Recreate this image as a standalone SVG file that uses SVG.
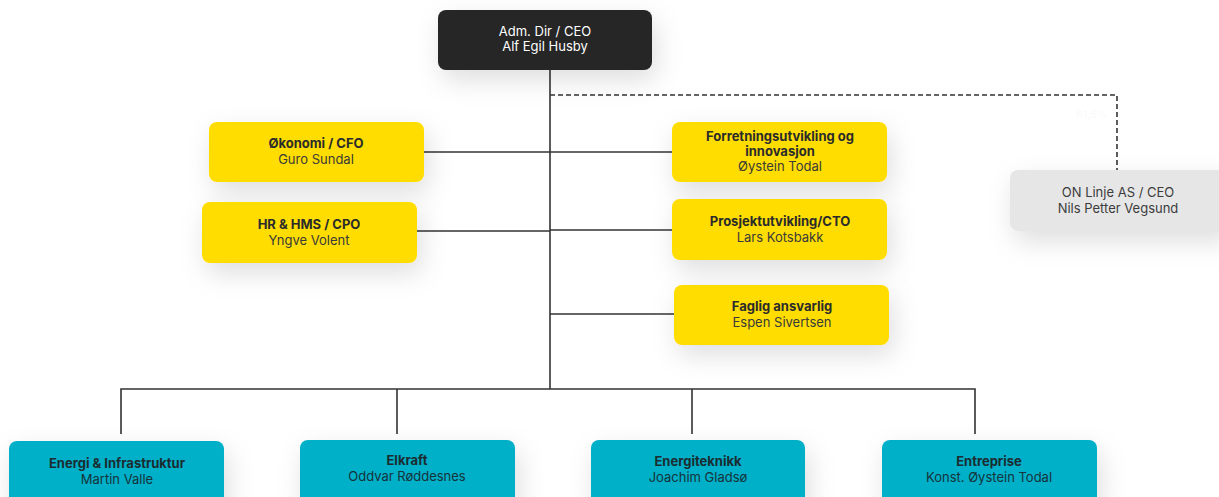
<svg xmlns="http://www.w3.org/2000/svg" width="1219" height="497" viewBox="0 0 1219 497">
<defs>
<filter id="sh" x="-30%" y="-50%" width="160%" height="220%">
<feDropShadow dx="4" dy="10" stdDeviation="13" flood-color="#000" flood-opacity="0.13"/>
</filter>
<style>
text{font-family:"Inter","Open Sans","Liberation Sans",sans-serif;font-size:13px;text-anchor:middle}
.t{font-weight:700;fill:#2b2b2b}
.n{fill:#3a3a3a}
.w{fill:#ffffff}
.g{fill:#3c3c3c}
.c{fill:#17333a}
.ct{font-weight:700;fill:#1c2c30}
.y{fill:#ffdd00}
.tl{fill:#00afc8}
.ln{stroke:#333;stroke-width:1.6;fill:none}
.dl{stroke:#333;stroke-width:1.6;fill:none;stroke-dasharray:5 3}
</style>
</defs>
<rect width="1219" height="497" fill="#ffffff"/>
<g id="connectors">
<path class="ln" d="M550 70 V389"/>
<path class="dl" d="M550 95 H1117 V170"/>
<path class="ln" d="M424 152 H672"/>
<path class="ln" d="M417 231 H550"/>
<path class="ln" d="M550 230 H672"/>
<path class="ln" d="M550 314 H674"/>
<path class="ln" d="M121 434 V389 H975 V434"/>
<path class="ln" d="M397 389 V434"/>
<path class="ln" d="M692 389 V434"/>
<text x="1092" y="118" style="fill:#fafafa;font-size:11px">61,5%</text>
</g>
<g id="ceo">
<rect x="438" y="10" width="214" height="60" rx="8" fill="#262626" filter="url(#sh)"/>
<text class="w" x="545" y="36">Adm. Dir / CEO</text>
<text class="w" x="545" y="51">Alf Egil Husby</text>
</g>
<g id="onlinje">
<rect x="1010" y="170" width="220" height="61" rx="8" fill="#e6e6e6" filter="url(#sh)"/>
<text class="g" x="1118" y="197">ON Linje AS / CEO</text>
<text class="g" x="1118" y="213">Nils Petter Vegsund</text>
</g>
<g id="okonomi">
<rect class="y" x="209" y="122" width="215" height="60" rx="8" filter="url(#sh)"/>
<text class="t" x="316" y="148">Økonomi / CFO</text>
<text class="n" x="316" y="164">Guro Sundal</text>
</g>
<g id="hr">
<rect class="y" x="202" y="202" width="215" height="61" rx="8" filter="url(#sh)"/>
<text class="t" x="309" y="229">HR &amp; HMS / CPO</text>
<text class="n" x="309" y="245">Yngve Volent</text>
</g>
<g id="forretning">
<rect class="y" x="672" y="122" width="215" height="60" rx="8" filter="url(#sh)"/>
<text class="t" x="780" y="141">Forretningsutvikling og</text>
<text class="t" x="780" y="156">innovasjon</text>
<text class="n" x="780" y="171">Øystein Todal</text>
</g>
<g id="prosjekt">
<rect class="y" x="672" y="199" width="215" height="61" rx="8" filter="url(#sh)"/>
<text class="t" x="780" y="226">Prosjektutvikling/CTO</text>
<text class="n" x="780" y="242">Lars Kotsbakk</text>
</g>
<g id="faglig">
<rect class="y" x="674" y="285" width="215" height="60" rx="8" filter="url(#sh)"/>
<text class="t" x="782" y="311">Faglig ansvarlig</text>
<text class="n" x="782" y="327">Espen Sivertsen</text>
</g>
<g id="energi">
<rect class="tl" x="9" y="441" width="215" height="70" rx="8" filter="url(#sh)"/>
<text class="ct" x="117" y="468">Energi &amp; Infrastruktur</text>
<text class="c" x="117" y="484">Martin Valle</text>
</g>
<g id="elkraft">
<rect class="tl" x="300" y="440" width="215" height="70" rx="8" filter="url(#sh)"/>
<text class="ct" x="407" y="465">Elkraft</text>
<text class="c" x="407" y="481">Oddvar Røddesnes</text>
</g>
<g id="energiteknikk">
<rect class="tl" x="591" y="440" width="214" height="70" rx="8" filter="url(#sh)"/>
<text class="ct" x="698" y="466">Energiteknikk</text>
<text class="c" x="698" y="482">Joachim Gladsø</text>
</g>
<g id="entreprise">
<rect class="tl" x="882" y="440" width="215" height="70" rx="8" filter="url(#sh)"/>
<text class="ct" x="989" y="466">Entreprise</text>
<text class="c" x="989" y="482">Konst. Øystein Todal</text>
</g>
</svg>
